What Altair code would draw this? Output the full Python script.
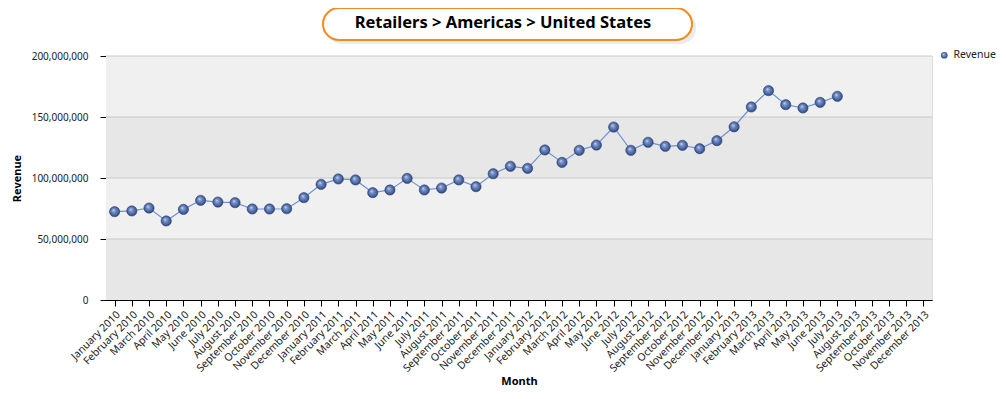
import altair as alt
import pandas as pd

months = [
    "January 2010", "February 2010", "March 2010", "April 2010", "May 2010", "June 2010",
    "July 2010", "August 2010", "September 2010", "October 2010", "November 2010", "December 2010",
    "January 2011", "February 2011", "March 2011", "April 2011", "May 2011", "June 2011",
    "July 2011", "August 2011", "September 2011", "October 2011", "November 2011", "December 2011",
    "January 2012", "February 2012", "March 2012", "April 2012", "May 2012", "June 2012",
    "July 2012", "August 2012", "September 2012", "October 2012", "November 2012", "December 2012",
    "January 2013", "February 2013", "March 2013", "April 2013", "May 2013", "June 2013",
    "July 2013", "August 2013", "September 2013", "October 2013", "November 2013", "December 2013",
]
revenue = [
    72.4, 73.0, 75.4, 64.8, 74.3, 81.7, 80.3, 79.8, 74.6, 74.6, 74.8, 83.9,
    94.8, 99.2, 98.4, 88.0, 90.2, 99.7, 90.2, 91.8, 98.4, 92.9, 103.5, 109.6,
    107.9, 123.0, 112.8, 122.7, 127.0, 141.8, 122.7, 129.3, 126.0, 126.8, 124.0, 130.6,
    142.0, 158.2, 171.6, 160.1, 157.4, 162.0, 167.0, None, None, None, None, None,
]
y_ticks = [0, 50_000_000, 100_000_000, 150_000_000, 200_000_000]
series_name = "Revenue"
title_text = "Retailers > Americas > United States"

df = pd.DataFrame({
    "Month": months,
    "Revenue": [v * 1_000_000 if v is not None else None for v in revenue],
    "series": series_name,
})
df_pts = df.dropna()

bands = pd.DataFrame({
    "lo": y_ticks[:-1],
    "hi": y_ticks[1:],
    "shade": ["dark" if i % 2 == 0 else "light" for i in range(len(y_ticks) - 1)],
})

FONT = "Noto Sans"
W, H = 826, 244

x_enc = alt.X(
    "Month:N", sort=months, scale=alt.Scale(domain=months, paddingInner=0, paddingOuter=0),
    axis=alt.Axis(
        title="Month", labelAngle=-45, labelFont=FONT, labelFontSize=10.5, labelColor="#222",
        tickColor="black", domainColor="black", tickSize=6, labelPadding=3,
        titleFont=FONT, titleFontSize=11, titleFontWeight="bold", titleColor="black",
        titleY=81, titleBaseline="middle", grid=False, labelOverlap=False,
    ),
)

y_scale = alt.Scale(domain=[0, 200_000_000], nice=False)

band_layer = alt.Chart(bands).mark_rect().encode(
    y=alt.Y("lo:Q", scale=y_scale,
            axis=alt.Axis(
                title="Revenue", values=y_ticks, format=",d", labelFont=FONT, labelFontSize=10,
                labelColor="#222", tickColor="black", domainColor="black", tickSize=6,
                labelPadding=12, titleFont=FONT, titleFontSize=11, titleFontWeight="bold",
                titleColor="black", titleX=-89, titleY=122, titleAlign="center",
                titleBaseline="middle", grid=True, gridColor="#c8c8c8", gridWidth=1,
            )),
    y2="hi:Q",
    x=alt.value(0), x2=alt.value(W),
    fill=alt.Fill("shade:N", scale=alt.Scale(domain=["dark", "light"], range=["#e7e7e7", "#f0f0f0"]),
                  legend=None),
)

grid_layer = alt.Chart(pd.DataFrame({"v": y_ticks[1:]})).mark_rule(color="#c8c8c8", strokeWidth=1).encode(
    y=alt.Y("v:Q", scale=y_scale),
    x=alt.value(0), x2=alt.value(W),
)

line_layer = alt.Chart(df_pts).mark_line(color="#6f8fd2", strokeWidth=1.2).encode(
    x=x_enc,
    y=alt.Y("Revenue:Q", scale=y_scale),
)

sphere = alt.RadialGradient(
    gradient="radial", x1=0.38, y1=0.35, r1=0.0, x2=0.5, y2=0.5, r2=0.55,
    stops=[
        alt.GradientStop(offset=0.0, color="#dfe7f7"),
        alt.GradientStop(offset=0.25, color="#7f99cf"),
        alt.GradientStop(offset=0.7, color="#4a65a0"),
        alt.GradientStop(offset=1.0, color="#24396b"),
    ],
)

point_layer = alt.Chart(df_pts).mark_point(
    filled=True, size=105, fill=sphere, stroke="#2e4372", strokeWidth=0.6, opacity=1,
).encode(
    x=x_enc,
    y=alt.Y("Revenue:Q", scale=y_scale),
    shape=alt.Shape(
        "series:N", scale=alt.Scale(domain=[series_name], range=["circle"]),
        legend=alt.Legend(
            title=None, orient="none", legendX=833, legendY=-6, symbolSize=45,
            symbolFillColor="#4a65a0", symbolStrokeColor="#2e4372", symbolStrokeWidth=0.6,
            labelFont=FONT, labelFontSize=10.5, labelColor="#222", labelOffset=4,
        ),
    ),
)

title_df = pd.DataFrame({"t": [title_text]})
title_shadow = alt.Chart(title_df).mark_rect(
    cornerRadius=16, fill="#000000", fillOpacity=0.08, stroke=None,
).encode(x=alt.value(220), x2=alt.value(590), y=alt.value(-45), y2=alt.value(-12))
title_box = alt.Chart(title_df).mark_rect(
    cornerRadius=16, fill="white", stroke="#f28a1e", strokeWidth=2,
).encode(x=alt.value(217), x2=alt.value(586), y=alt.value(-48), y2=alt.value(-16))
title_label = alt.Chart(title_df).mark_text(
    font=FONT, fontSize=16.5, fontWeight="bold", color="black", align="center", baseline="middle",
).encode(text="t:N", x=alt.value(397), y=alt.value(-33))

chart = alt.layer(
    band_layer, grid_layer, line_layer, point_layer, title_shadow, title_box, title_label,
).resolve_scale(fill="independent").properties(
    width=W, height=H,
    autosize=alt.AutoSizeParams(type="none"),
    padding={"left": 98, "top": 48, "right": 66, "bottom": 91},
).configure_view(stroke=None).configure(background="white")

chart.save("out.html", embed_options={"renderer": "svg", "actions": False})
